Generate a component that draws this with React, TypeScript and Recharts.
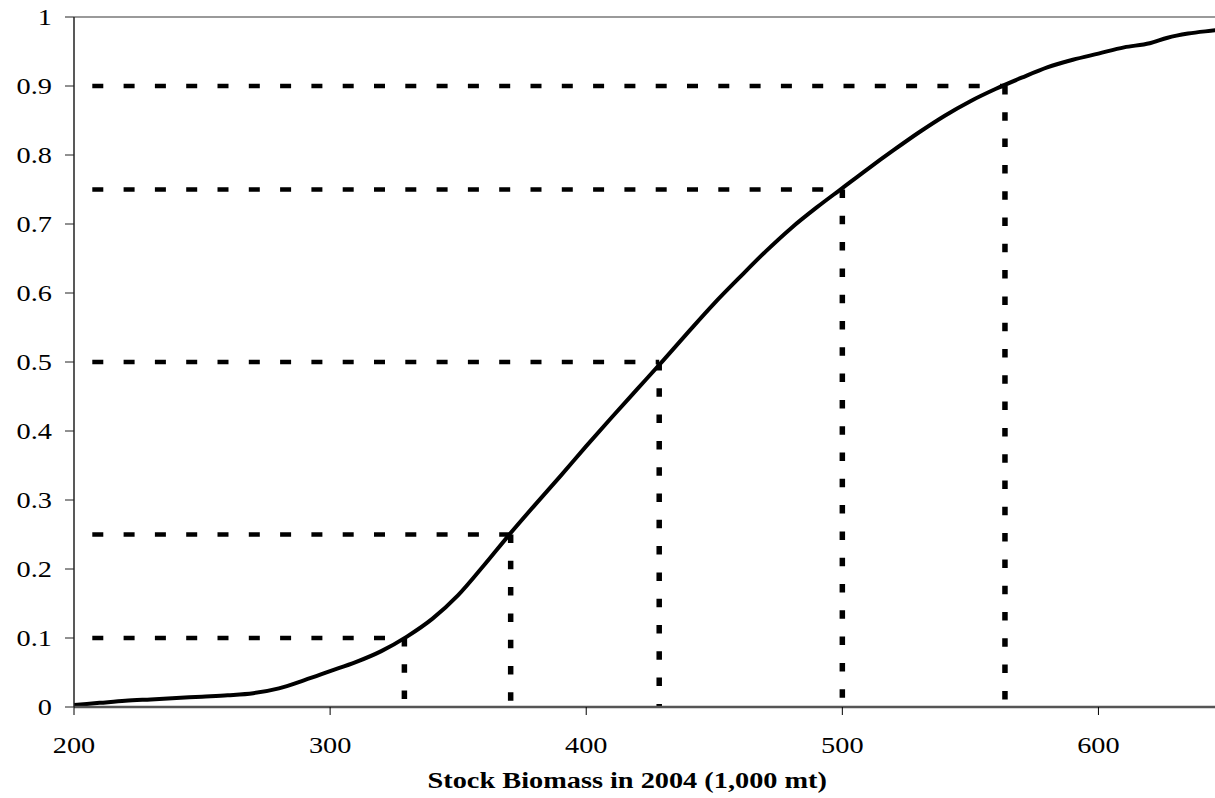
import React from 'react';
import { LineChart, Line, XAxis, YAxis, ReferenceLine } from 'recharts';

// Stock biomass in 2004 (1,000 mt) and cumulative probability
const biomass = [200, 210, 220, 230, 240, 250, 260, 270, 280, 290, 300, 310, 320, 330, 340, 350, 360, 370, 380, 390, 400, 410, 420, 430, 440, 450, 460, 470, 480, 490, 500, 510, 520, 530, 540, 550, 560, 570, 580, 590, 600, 610, 620, 627, 635, 646, 650];
const cumProb = [0.003, 0.006, 0.009, 0.011, 0.013, 0.015, 0.017, 0.020, 0.027, 0.039, 0.052, 0.065, 0.081, 0.102, 0.128, 0.162, 0.205, 0.250, 0.293, 0.335, 0.378, 0.420, 0.461, 0.502, 0.544, 0.585, 0.623, 0.660, 0.694, 0.724, 0.752, 0.780, 0.807, 0.833, 0.857, 0.878, 0.896, 0.912, 0.927, 0.938, 0.947, 0.956, 0.962, 0.970, 0.976, 0.981, 0.983];

// Percentile markers
const refProbs = [0.1, 0.25, 0.5, 0.75, 0.9];
const refBiomass = [329, 370.5, 428.5, 500, 563.5];

const xTicks = [200, 300, 400, 500, 600];
const yTicks = [0, 0.1, 0.2, 0.3, 0.4, 0.5, 0.6, 0.7, 0.8, 0.9, 1];
const xTitle = 'Stock Biomass in 2004 (1,000 mt)';

const curveData = biomass.map((x, i) => ({ x, p: cumProb[i] }));

const FONT = '"Liberation Serif", "Times New Roman", serif';
const STRETCH = 1.18;

const YTick = (props: any) => {
  const { x, y, payload } = props;
  return (
    <text transform={`translate(${x},${y + 8}) scale(${STRETCH},1)`} textAnchor="end" fontFamily={FONT} fontSize={24} fill="#000">
      {payload.value}
    </text>
  );
};

const XTick = (props: any) => {
  const { x, y, payload } = props;
  return (
    <text transform={`translate(${x},${y + 18}) scale(${STRETCH},1)`} textAnchor="middle" fontFamily={FONT} fontSize={24} fill="#000">
      {payload.value}
    </text>
  );
};

const TitleLabel = (props: any) => {
  const vb = props.viewBox || { x: 74, y: 707, width: 1152, height: 40 };
  const cx = vb.x + vb.width / 2 - 23;
  const by = vb.y + 81;
  return (
    <text transform={`translate(${cx},${by}) scale(${STRETCH},1)`} textAnchor="middle" fontFamily={FONT} fontSize={24} fontWeight="bold" fill="#000">
      {xTitle}
    </text>
  );
};

export default function App() {
  return (
    <div style={{ position: 'absolute', left: 0, top: 0, width: 1215, height: 798, overflow: 'hidden', background: '#fff' }}>
      <LineChart width={1240} height={798} margin={{ top: 17, right: 13.5, left: 14, bottom: 51 }}>
        <XAxis
          type="number"
          dataKey="x"
          domain={[200, 650]}
          ticks={xTicks}
          allowDataOverflow
          height={40}
          tickSize={8}
          tickMargin={20}
          stroke="#555"
          axisLine={{ stroke: '#555', strokeWidth: 2.5 }}
          tickLine={{ stroke: '#000', strokeWidth: 1 }}
          tick={(p: any) => <XTick {...p} />}
          label={{ value: xTitle, content: (p: any) => <TitleLabel {...p} /> }}
        />
        <YAxis
          type="number"
          domain={[0, 1]}
          ticks={yTicks}
          allowDataOverflow
          width={60}
          tickSize={9}
          tickMargin={13}
          axisLine={{ stroke: '#222', strokeWidth: 1.5 }}
          tickLine={{ stroke: '#222', strokeWidth: 1 }}
          tick={(p: any) => <YTick {...p} />}
        />
        <ReferenceLine y={1} stroke="#9a9a9a" strokeWidth={2} />
        {refProbs.map((p, i) => (
          <ReferenceLine
            key={'h' + i}
            segment={[{ x: 200, y: p }, { x: refBiomass[i], y: p }]}
            stroke="#000"
            strokeWidth={4.5}
            strokeDasharray="11 20.3"
            strokeDashoffset={13}
          />
        ))}
        {refProbs.map((p, i) => (
          <ReferenceLine
            key={'v' + i}
            segment={[{ x: refBiomass[i], y: p }, { x: refBiomass[i], y: 0 }]}
            stroke="#000"
            strokeWidth={5.5}
            strokeDasharray="8.5 17.8"
          />
        ))}
        <Line
          data={curveData}
          dataKey="p"
          type="monotone"
          stroke="#000"
          strokeWidth={4}
          dot={false}
          activeDot={false}
          isAnimationActive={false}
        />
      </LineChart>
    </div>
  );
}
